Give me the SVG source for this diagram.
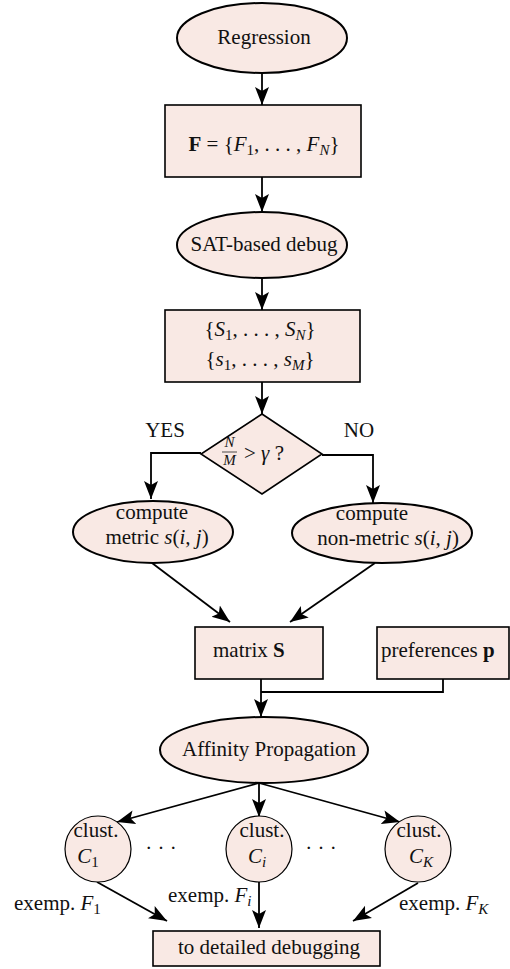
<svg xmlns="http://www.w3.org/2000/svg" width="510" height="969" viewBox="0 0 510 969">
<style>
.n{fill:#F9E9E4;stroke:#000;stroke-width:1.6}
.e{fill:#F9E9E4;stroke:#000;stroke-width:2}
.c{fill:#F9E9E4;stroke:#000;stroke-width:1.2}
.t{font-family:"Liberation Serif","Times New Roman",serif;font-size:21px;fill:#111}
.i{font-style:italic}
.s{font-size:15px}
.k{fill:none;stroke:#000;stroke-width:1.8}
</style>
<defs>
<marker id="a" markerUnits="userSpaceOnUse" markerWidth="20" markerHeight="16" refX="18" refY="8" orient="auto">
<path d="M0,1 L18,8 L0,15 L4,8 Z" fill="#000"/>
</marker>
</defs>
<rect width="510" height="969" fill="#fff"/>
<g id="connectors">
<path class="k" d="M262,73 V105" marker-end="url(#a)"/>
<path class="k" d="M262,177 V212" marker-end="url(#a)"/>
<path class="k" d="M262,278 V310" marker-end="url(#a)"/>
<path class="k" d="M262,382 V414" marker-end="url(#a)"/>
<path class="k" d="M201,453 H151 V499" marker-end="url(#a)"/>
<path class="k" d="M322,455 H373 V503" marker-end="url(#a)"/>
<path class="k" d="M152,563 L230,622" marker-end="url(#a)"/>
<path class="k" d="M375,563 L290,622" marker-end="url(#a)"/>
<path class="k" d="M261,679 V717" marker-end="url(#a)"/>
<path class="k" d="M443,679 V692 H261"/>
<path class="k" d="M259,783 L117,822" marker-end="url(#a)"/>
<path class="k" d="M259,783 V817" marker-end="url(#a)"/>
<path class="k" d="M259,783 L400,822" marker-end="url(#a)"/>
<path class="k" d="M97,882 L167,921" marker-end="url(#a)"/>
<path class="k" d="M259,882 V928" marker-end="url(#a)"/>
<path class="k" d="M418,883 L353,921" marker-end="url(#a)"/>
</g>
<g id="regression">
<ellipse class="e" cx="262" cy="38" rx="85" ry="35"/>
<text class="t" x="264" y="44" text-anchor="middle">Regression</text>
</g>
<g id="failures">
<rect class="n" x="165" y="105" width="196" height="72"/>
<text class="t" x="264" y="151" text-anchor="middle"><tspan font-weight="bold">F</tspan> = {<tspan class="i">F</tspan><tspan class="s" dy="4">1</tspan><tspan dy="-4">, . . . , </tspan><tspan class="i">F</tspan><tspan class="i s" dy="4">N</tspan><tspan dy="-4">}</tspan></text>
</g>
<g id="sat">
<ellipse class="e" cx="262" cy="245" rx="85" ry="33"/>
<text class="t" x="264" y="251" text-anchor="middle">SAT-based debug</text>
</g>
<g id="solutions">
<rect class="n" x="165" y="310" width="195" height="72"/>
<text class="t" x="260" y="336" text-anchor="middle">{<tspan class="i">S</tspan><tspan class="s" dy="4">1</tspan><tspan dy="-4">, . . . , </tspan><tspan class="i">S</tspan><tspan class="i s" dy="4">N</tspan><tspan dy="-4">}</tspan></text>
<text class="t" x="260" y="366" text-anchor="middle">{<tspan class="i">s</tspan><tspan class="s" dy="4">1</tspan><tspan dy="-4">, . . . , </tspan><tspan class="i">s</tspan><tspan class="i s" dy="4">M</tspan><tspan dy="-4">}</tspan></text>
</g>
<g id="decision">
<polygon class="n" points="262,414 322,454 262,494 201,454"/>
<text class="t i s" x="229.5" y="447" text-anchor="middle">N</text>
<line x1="222" y1="452" x2="237" y2="452" stroke="#222" stroke-width="0.8"/>
<text class="t i s" x="229.5" y="465" text-anchor="middle">M</text>
<text class="t" x="244" y="460">&gt; <tspan class="i">γ</tspan> ?</text>
<text class="t" x="165" y="437" text-anchor="middle">YES</text>
<text class="t" x="359" y="437" text-anchor="middle">NO</text>
</g>
<g id="metric">
<ellipse class="e" cx="153" cy="532" rx="80" ry="31"/>
<text class="t" x="152" y="519" text-anchor="middle">compute</text>
<text class="t" x="157" y="544" text-anchor="middle">metric <tspan class="i">s</tspan>(<tspan class="i">i, j</tspan>)</text>
</g>
<g id="nonmetric">
<ellipse class="e" cx="382" cy="533" rx="90" ry="30"/>
<text class="t" x="372" y="520" text-anchor="middle">compute</text>
<text class="t" x="388" y="545" text-anchor="middle">non-metric <tspan class="i">s</tspan>(<tspan class="i">i, j</tspan>)</text>
</g>
<g id="matrix">
<rect class="n" x="195" y="627" width="128" height="52"/>
<text class="t" x="213" y="657">matrix <tspan font-weight="bold">S</tspan></text>
</g>
<g id="preferences">
<rect class="n" x="377" y="627" width="132" height="52"/>
<text class="t" x="381" y="657">preferences <tspan font-weight="bold">p</tspan></text>
</g>
<g id="affinity">
<ellipse class="e" cx="264" cy="750" rx="104" ry="33"/>
<text class="t" x="269" y="756" text-anchor="middle">Affinity Propagation</text>
</g>
<g id="cluster1">
<circle class="c" cx="98" cy="849" r="33"/>
<text class="t" x="96" y="837" text-anchor="middle">clust.</text>
<text class="t" x="88" y="863" text-anchor="middle"><tspan class="i">C</tspan><tspan class="s" dy="4">1</tspan></text>
</g>
<text class="t" x="161" y="855" text-anchor="middle">· · ·</text>
<g id="clusteri">
<circle class="c" cx="259" cy="849" r="33"/>
<text class="t" x="262" y="837" text-anchor="middle">clust.</text>
<text class="t" x="257" y="863" text-anchor="middle"><tspan class="i">C</tspan><tspan class="i s" dy="4">i</tspan></text>
</g>
<text class="t" x="321" y="855" text-anchor="middle">· · ·</text>
<g id="clusterK">
<circle class="c" cx="418" cy="849" r="33"/>
<text class="t" x="419" y="837" text-anchor="middle">clust.</text>
<text class="t" x="421" y="863" text-anchor="middle"><tspan class="i">C</tspan><tspan class="i s" dy="4">K</tspan></text>
</g>
<g id="labels">
<text class="t" x="14" y="910">exemp. <tspan class="i">F</tspan><tspan class="s" dy="4">1</tspan></text>
<text class="t" x="168" y="902">exemp. <tspan class="i">F</tspan><tspan class="i s" dy="4">i</tspan></text>
<text class="t" x="399" y="910">exemp. <tspan class="i">F</tspan><tspan class="i s" dy="4">K</tspan></text>
</g>
<g id="detailed">
<rect class="n" x="153" y="931" width="227" height="35"/>
<text class="t" x="269" y="954" text-anchor="middle">to detailed debugging</text>
</g>
</svg>
